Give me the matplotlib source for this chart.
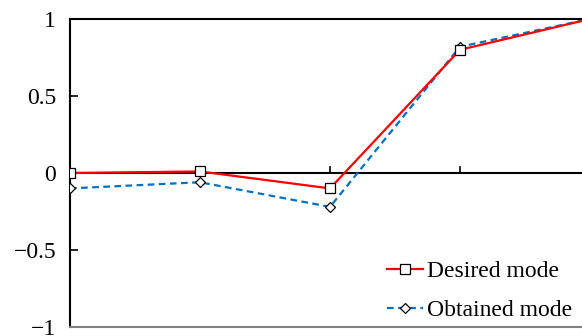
import numpy as np
import matplotlib.pyplot as plt

# mode shape values at each node
nodes = [0, 1, 2, 3, 4]
desired = [0.0, 0.01, -0.1, 0.8, 1.0]
obtained = [-0.1, -0.06, -0.22, 0.82, 1.0]
yticks = [-1, -0.5, 0, 0.5, 1]
ytick_labels = ['\u22121', '\u22120.5', '0', '0.5', '1']

plt.rcParams['font.family'] = ['Liberation Serif', 'DejaVu Serif']

fig = plt.figure(figsize=(5.82, 3.36), dpi=100)
# axes runs a bit past the right edge, last node sits just outside
ax = fig.add_axes([70 / 582, 9 / 336, 520 / 582, 308 / 336])

ax.plot(nodes, desired, color='#FF0000', lw=1.6, marker='s', ms=7,
        mfc='white', mec='black', mew=0.9, label='Desired mode', zorder=4)
ax.plot(nodes, obtained, color='#0070C0', lw=1.6, ls=(0, (3, 2)), marker='D',
        ms=5, mfc='white', mec='black', mew=0.9, label='Obtained mode', zorder=3)

ax.set_xlim(0, 4)
ax.set_ylim(-1, 1)
ax.set_yticks(yticks)
ax.set_yticklabels(ytick_labels, fontsize=17)
ax.tick_params(axis='y', direction='in', length=6, width=1.2, pad=10)
ax.set_xticks([])

# zero line with small upward ticks at interior nodes
ax.axhline(0, color='black', lw=1.5, zorder=2)
for x in nodes[1:-1]:
    ax.plot([x, x], [0, 0.04], color='black', lw=1.2, zorder=2)

ax.spines['left'].set_linewidth(1.5)
ax.spines['top'].set_linewidth(1.5)
ax.spines['bottom'].set_color('#808080')
ax.spines['bottom'].set_linewidth(1.5)
ax.spines['right'].set_visible(False)

ax.legend(loc='lower right', bbox_to_anchor=(1.007, -0.05), frameon=False,
          fontsize=17, handlelength=1.5, handletextpad=0.2, labelspacing=0.75)

fig.savefig('out.png', dpi=100)
